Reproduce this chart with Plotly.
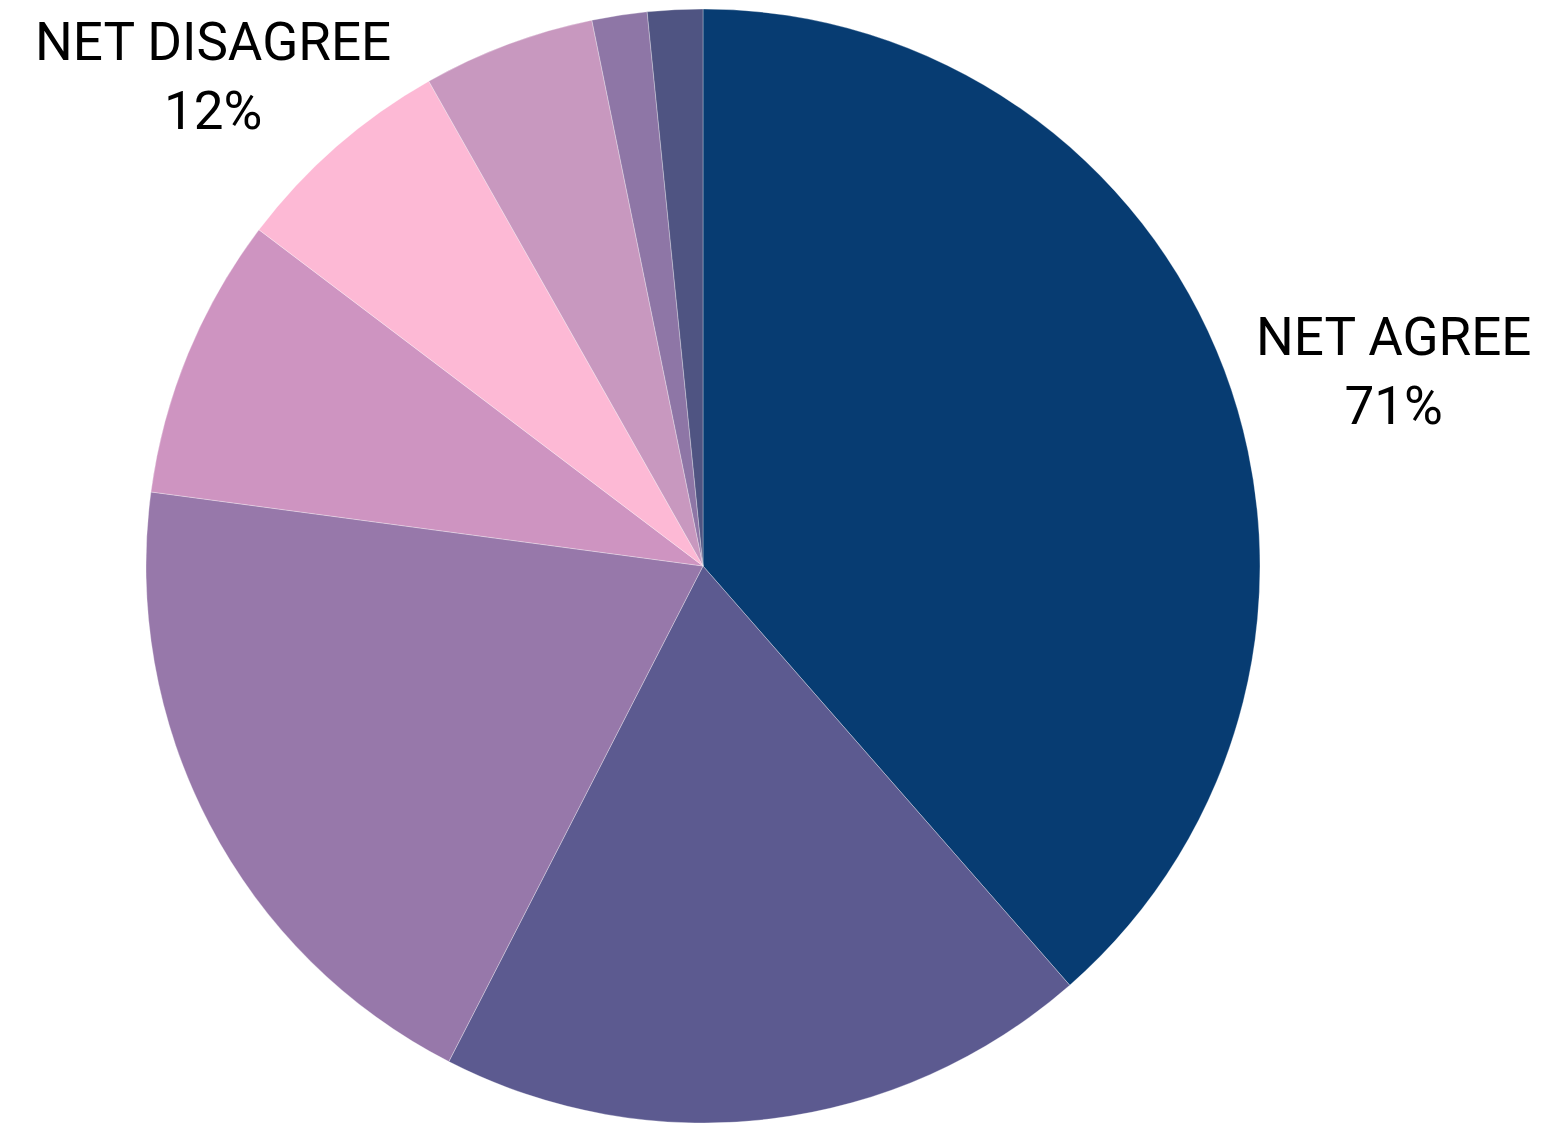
import plotly.graph_objects as go

labels = ["Strongly agree", "Agree", "Somewhat agree", "Neither", "Somewhat disagree",
          "Disagree", "Strongly disagree", "Don't know"]
values = [38.6, 19.0, 19.6, 8.2, 6.5, 5.0, 1.6, 1.6]
colors = ["#073C72", "#5C5A90", "#9778AA", "#CE94C1", "#FDB9D5", "#C898BF", "#8E76A6", "#4F5482"]

W, H = 1563, 1123
T = 9
PH = H - T

fig = go.Figure(go.Pie(
    labels=labels, values=values, sort=False, direction="clockwise", rotation=0,
    marker=dict(colors=colors, line=dict(color="rgba(255,255,255,0.5)", width=0.6)),
    textinfo="none", hoverinfo="label+percent", showlegend=False,
    domain=dict(x=[0, 1406 / W], y=[0, 1]),
))

font = dict(family="Roboto", size=53, color="#000000")
fig.add_annotation(text="NET AGREE<br>71%", x=1393 / W, y=1 - (372 - T) / PH, xref="paper", yref="paper",
                   xanchor="center", yanchor="middle", showarrow=False, font=font, align="center")
fig.add_annotation(text="NET DISAGREE<br>12%", x=213 / W, y=1 - (76 - T) / PH, xref="paper", yref="paper",
                   xanchor="center", yanchor="middle", showarrow=False, font=font, align="center")

fig.update_layout(width=W, height=H, margin=dict(l=0, r=0, t=T, b=0),
                  paper_bgcolor="white", plot_bgcolor="white")
fig.write_html("out.html", config={"displayModeBar": False},
               post_script="document.body.style.margin='0';")
